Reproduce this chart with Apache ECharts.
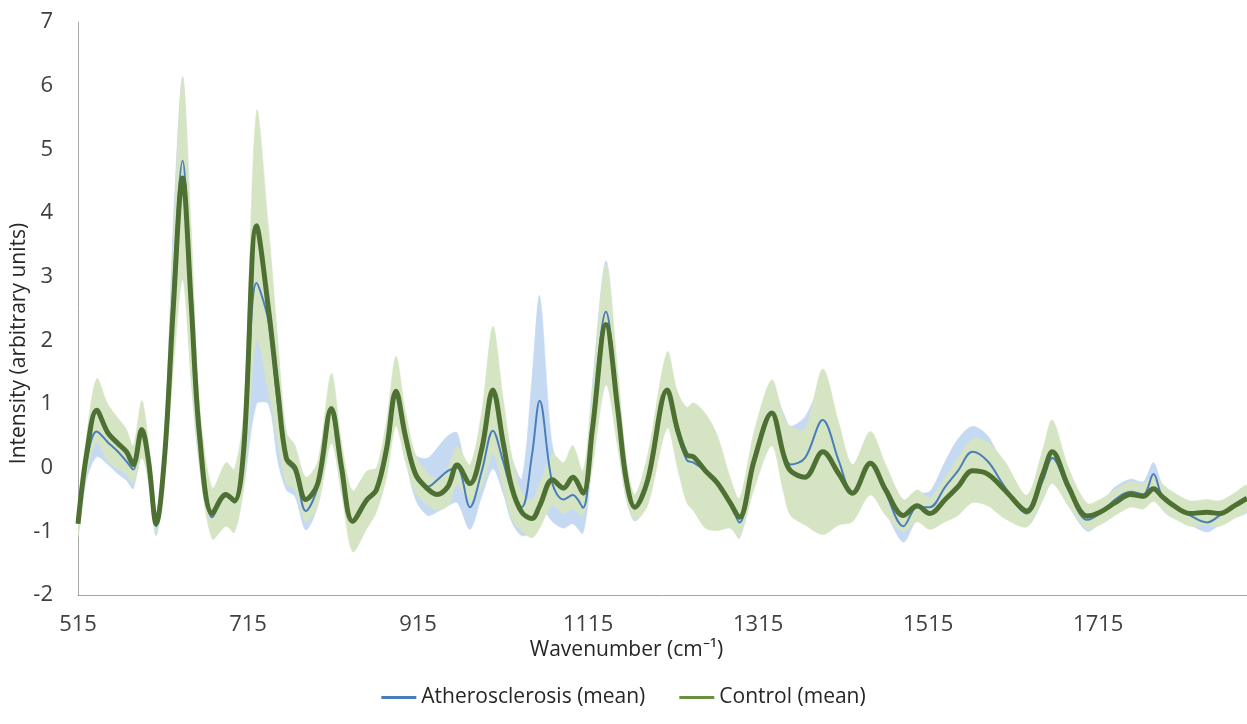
<!DOCTYPE html>
<html>
<head>
<meta charset="utf-8">
<script src="https://cdn.jsdelivr.net/npm/echarts@6/dist/echarts.min.js"></script>
<style>
html,body{margin:0;padding:0;background:#fff;}
#chart{width:1247px;height:724px;}
</style>
</head>
<body>
<div id="chart"></div>
<script>
// ---- data ----
const wavenumber = [515,525,537,550,562,572,580,590,598,607,617,627,638,648,658,673,689,699,710,725,739,750,760,770,783,797,813,825,838,855,866,878,889,900,912,926,937,950,961,976,990,1003,1015,1025,1037,1049,1058,1073,1086,1097,1109,1120,1136,1150,1160,1170,1185,1208,1220,1231,1239,1253,1267,1282,1293,1310,1331,1345,1353,1370,1391,1410,1426,1447,1465,1486,1502,1517,1535,1550,1567,1585,1605,1631,1650,1661,1680,1702,1717,1735,1753,1768,1780,1790,1800,1823,1843,1858,1875,1890];

const ctlMean = [-0.88,0.2,0.9,0.55,0.38,0.25,0.05,0.6,0.1,-0.88,0.2,2.5,4.55,2.6,0.5,-0.72,-0.42,-0.52,0.3,3.8,2.5,1.2,0.15,0.0,-0.5,-0.25,0.93,0.0,-0.84,-0.5,-0.35,0.3,1.2,0.5,-0.1,-0.33,-0.42,-0.3,0.04,-0.25,0.3,1.22,0.4,-0.3,-0.7,-0.8,-0.6,-0.19,-0.32,-0.15,-0.4,0.6,2.25,0.9,-0.2,-0.62,-0.2,1.22,0.6,0.2,0.17,-0.05,-0.24,-0.55,-0.78,0.1,0.86,0.2,-0.05,-0.15,0.25,-0.1,-0.4,0.07,-0.35,-0.75,-0.6,-0.72,-0.5,-0.3,-0.05,-0.1,-0.35,-0.68,-0.1,0.25,-0.3,-0.76,-0.7,-0.55,-0.42,-0.45,-0.33,-0.45,-0.56,-0.72,-0.7,-0.72,-0.6,-0.48];

const ctlSd = [0.2,0.3,0.5,0.45,0.4,0.35,0.3,0.45,0.3,0.15,0.3,1.0,1.6,1.2,0.5,0.4,0.5,0.5,0.6,1.8,1.3,0.8,0.4,0.35,0.35,0.35,0.55,0.4,0.48,0.45,0.35,0.45,0.55,0.4,0.3,0.25,0.25,0.3,0.3,0.3,0.6,1.0,0.7,0.5,0.3,0.3,0.35,0.4,0.4,0.5,0.35,0.6,0.95,0.6,0.3,0.2,0.4,0.6,0.6,0.75,0.85,0.9,0.75,0.4,0.3,0.45,0.52,0.6,0.7,0.75,1.3,0.8,0.45,0.5,0.4,0.25,0.25,0.25,0.35,0.45,0.5,0.5,0.45,0.25,0.4,0.5,0.3,0.2,0.2,0.2,0.2,0.2,0.2,0.2,0.2,0.2,0.2,0.2,0.2,0.2];

const athMean = [-0.88,0.1,0.57,0.4,0.25,0.1,-0.03,0.6,0.05,-0.92,0.2,2.8,4.82,2.5,0.4,-0.78,-0.45,-0.55,0.2,2.9,2.3,1.0,0.1,-0.05,-0.68,-0.3,0.9,-0.05,-0.86,-0.52,-0.38,0.25,1.22,0.45,-0.15,-0.3,-0.2,-0.05,0.0,-0.62,-0.05,0.58,0.1,-0.35,-0.62,0.2,1.05,-0.25,-0.5,-0.43,-0.63,0.7,2.45,0.9,-0.2,-0.64,-0.2,1.2,0.55,0.12,0.08,-0.05,-0.22,-0.55,-0.86,0.1,0.85,0.25,0.05,0.15,0.75,0.1,-0.4,0.05,-0.4,-0.92,-0.62,-0.62,-0.3,-0.05,0.25,0.1,-0.3,-0.72,-0.2,0.15,-0.35,-0.82,-0.72,-0.5,-0.38,-0.42,-0.1,-0.45,-0.57,-0.75,-0.86,-0.75,-0.6,-0.5];

const athSd = [0.2,0.3,0.4,0.35,0.35,0.3,0.3,0.35,0.3,0.15,0.3,1.0,1.3,1.1,0.4,0.25,0.35,0.35,0.5,1.9,1.3,0.9,0.45,0.4,0.3,0.3,0.4,0.35,0.2,0.2,0.2,0.3,0.35,0.3,0.35,0.45,0.5,0.55,0.55,0.35,0.4,0.6,0.5,0.5,0.45,1.2,1.65,0.6,0.45,0.45,0.4,0.6,0.8,0.5,0.3,0.2,0.35,0.35,0.35,0.4,0.45,0.5,0.4,0.3,0.25,0.35,0.4,0.6,0.6,0.65,0.55,0.5,0.3,0.35,0.3,0.25,0.2,0.25,0.4,0.5,0.4,0.4,0.3,0.2,0.3,0.3,0.25,0.18,0.15,0.2,0.2,0.2,0.18,0.2,0.2,0.15,0.15,0.15,0.18,0.2];

const xTicks = { min: 515, max: 1890, interval: 200 };
const yTicks = { min: -2, max: 7, interval: 1 };

// ---- build series ----
const pairs = (ys) => wavenumber.map((x, i) => [x, ys[i]]);

const FONT = '"Open Sans", "Liberation Sans", sans-serif';
const SMOOTH = 0.35;

// mean ± sd band drawn as one polygon through the axes' scales
function bandSeries(id, mean, sd, color, z) {
  return {
    name: id, type: 'custom', silent: true, z: z, clip: true,
    data: wavenumber.map((x, i) => [x, mean[i] - sd[i], mean[i] + sd[i]]),
    encode: { x: 0, y: [1, 2] },
    renderItem: function (params, api) {
      if (params.dataIndex !== 0) return null;
      const up = [], lo = [];
      for (let i = 0; i < wavenumber.length; i++) {
        up.push(api.coord([wavenumber[i], mean[i] + sd[i]]));
        lo.push(api.coord([wavenumber[i], mean[i] - sd[i]]));
      }
      return {
        type: 'polygon',
        shape: { points: up.concat(lo.reverse()), smooth: 0.3 },
        style: { fill: color, stroke: color, lineWidth: 0.5 }
      };
    }
  };
}

const chart = echarts.init(document.getElementById('chart'));
chart.setOption({
  animation: false,
  backgroundColor: '#ffffff',
  grid: { left: 78, right: 0, top: 22, bottom: 129, containLabel: false, outerBoundsMode: 'none' },
  xAxis: {
    type: 'value', min: xTicks.min, max: xTicks.max, interval: xTicks.interval,
    name: 'Wavenumber (cm\u207B\u00B9)', nameLocation: 'middle', nameGap: 45, nameMoveOverlap: false,
    nameTextStyle: { fontFamily: FONT, fontSize: 21, color: '#262626', padding: [0, 72, 0, 0] },
    axisLine: { onZero: false, lineStyle: { color: '#a6a6a6', width: 1 } },
    axisTick: { show: false },
    splitLine: { show: false },
    axisLabel: { fontFamily: FONT, fontSize: 22, color: '#404040', margin: 19, showMaxLabel: false,
      formatter: (v) => String(v) }
  },
  yAxis: {
    type: 'value', min: yTicks.min, max: yTicks.max, interval: yTicks.interval,
    name: 'Intensity (arbitrary units)', nameLocation: 'middle', nameGap: 48, nameMoveOverlap: false,
    nameTextStyle: { fontFamily: FONT, fontSize: 21, color: '#262626', padding: [0, 70, 0, 0] },
    axisLine: { show: true, lineStyle: { color: '#a6a6a6', width: 1 } },
    axisTick: { show: false },
    splitLine: { show: false },
    axisLabel: { fontFamily: FONT, fontSize: 22, color: '#404040', margin: 25 }
  },
  legend: {
    data: [
      { name: 'Atherosclerosis (mean)', icon: 'rect' },
      { name: 'Control (mean)', icon: 'rect' }
    ],
    left: 'center', top: 682, itemWidth: 35, itemHeight: 3, itemGap: 34,
    textStyle: { fontFamily: FONT, fontSize: 21, color: '#262626' }
  },
  series: [
    bandSeries('athBand', athMean, athSd, '#c6d9f2', 1),
    bandSeries('ctlBand', ctlMean, ctlSd, '#d5e5c3', 2),
    {
      name: 'Atherosclerosis (mean)', type: 'line', data: pairs(athMean),
      smooth: SMOOTH, symbol: 'none', z: 4,
      itemStyle: { color: '#4a7ebb' },
      lineStyle: { color: '#4a7ebb', width: 2 }
    },
    {
      name: 'Control (mean)', type: 'line', data: pairs(ctlMean),
      smooth: SMOOTH, symbol: 'none', z: 5,
      itemStyle: { color: '#6a8f3e' },
      lineStyle: { color: '#4e7032', width: 5 }
    }
  ]
});
</script>
</body>
</html>
